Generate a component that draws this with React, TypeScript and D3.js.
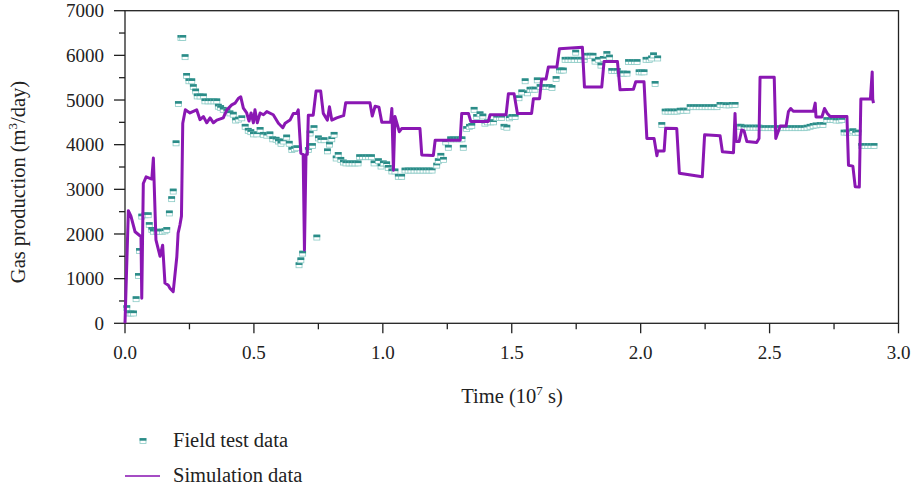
import React from "react";
import * as d3 from "d3";

// Simulation data (time in 1e7 s, gas production in m3/day)
const simTime = [0, 0.013, 0.023, 0.039, 0.058, 0.062, 0.065, 0.071, 0.082, 0.104, 0.110, 0.120, 0.136, 0.146, 0.155, 0.168, 0.175, 0.187, 0.201, 0.206, 0.213, 0.219, 0.224, 0.234, 0.252, 0.278, 0.291, 0.304, 0.317, 0.330, 0.343, 0.356, 0.381, 0.395, 0.414, 0.427, 0.440, 0.449, 0.459, 0.472, 0.481, 0.489, 0.498, 0.504, 0.513, 0.524, 0.537, 0.550, 0.575, 0.595, 0.612, 0.621, 0.640, 0.653, 0.666, 0.672, 0.682, 0.691, 0.696, 0.702, 0.707, 0.711, 0.730, 0.741, 0.759, 0.769, 0.785, 0.793, 0.802, 0.821, 0.841, 0.848, 0.856, 0.950, 0.959, 0.970, 0.985, 0.996, 1.030, 1.035, 1.041, 1.047, 1.064, 1.073, 1.144, 1.151, 1.196, 1.203, 1.300, 1.306, 1.332, 1.341, 1.409, 1.416, 1.478, 1.487, 1.509, 1.522, 1.577, 1.584, 1.608, 1.616, 1.633, 1.642, 1.675, 1.685, 1.774, 1.782, 1.849, 1.858, 1.910, 1.920, 1.972, 1.981, 2.013, 2.024, 2.052, 2.063, 2.066, 2.091, 2.097, 2.140, 2.150, 2.239, 2.248, 2.308, 2.317, 2.360, 2.366, 2.370, 2.382, 2.392, 2.401, 2.412, 2.450, 2.459, 2.463, 2.518, 2.524, 2.541, 2.564, 2.573, 2.582, 2.592, 2.670, 2.677, 2.680, 2.703, 2.713, 2.724, 2.735, 2.800, 2.806, 2.823, 2.832, 2.848, 2.854, 2.891, 2.898, 2.900, 2.903];
const simGas = [0, 2520, 2400, 2050, 1960, 1950, 560, 3130, 3280, 3230, 3700, 1870, 1500, 1750, 900, 850, 780, 710, 1490, 2020, 2200, 2400, 4480, 4780, 4710, 4780, 4560, 4630, 4490, 4600, 4490, 4550, 4600, 4780, 4890, 4930, 5040, 5070, 4820, 4710, 4530, 4710, 4490, 4780, 4490, 4710, 4670, 4740, 4670, 4480, 4380, 4480, 4550, 4700, 4700, 4780, 3810, 3780, 1640, 3780, 3780, 4660, 4660, 5200, 5200, 4700, 4550, 4850, 4550, 4600, 4640, 4650, 4940, 4940, 4640, 4860, 4840, 4500, 4500, 4810, 3430, 4630, 4290, 4360, 4360, 3770, 3760, 4100, 4100, 4700, 4700, 4520, 4520, 4670, 4670, 5140, 5140, 4700, 4700, 5030, 5030, 5470, 5470, 5740, 5740, 6150, 6180, 5290, 5290, 5860, 5860, 5230, 5240, 5410, 5410, 4140, 4140, 3750, 3860, 3860, 4370, 4360, 3360, 3280, 4220, 4200, 3840, 3820, 4700, 4070, 4070, 4330, 4310, 4070, 4050, 4140, 5510, 5510, 4140, 4420, 4420, 4740, 4810, 4750, 4750, 4930, 4620, 4620, 4810, 4700, 4630, 4630, 3540, 3520, 3060, 3050, 5020, 5020, 5630, 5020, 4930];

// Field test data
const fieldTime = [0.007, 0.013, 0.023, 0.033, 0.043, 0.052, 0.056, 0.065, 0.078, 0.090, 0.094, 0.104, 0.110, 0.123, 0.134, 0.145, 0.155, 0.162, 0.172, 0.181, 0.187, 0.198, 0.207, 0.217, 0.224, 0.233, 0.239, 0.248, 0.259, 0.265, 0.274, 0.280, 0.291, 0.304, 0.310, 0.322, 0.334, 0.345, 0.356, 0.362, 0.371, 0.381, 0.395, 0.407, 0.420, 0.429, 0.440, 0.453, 0.466, 0.478, 0.488, 0.498, 0.511, 0.524, 0.537, 0.550, 0.562, 0.573, 0.586, 0.595, 0.605, 0.614, 0.627, 0.637, 0.647, 0.657, 0.666, 0.675, 0.682, 0.689, 0.711, 0.718, 0.727, 0.733, 0.744, 0.750, 0.760, 0.772, 0.785, 0.793, 0.802, 0.811, 0.819, 0.827, 0.837, 0.847, 0.857, 0.869, 0.881, 0.892, 0.904, 0.910, 0.921, 0.933, 0.945, 0.956, 0.966, 0.983, 0.993, 1.002, 1.015, 1.021, 1.035, 1.047, 1.060, 1.073, 1.086, 1.098, 1.109, 1.121, 1.133, 1.144, 1.156, 1.168, 1.179, 1.191, 1.209, 1.215, 1.225, 1.235, 1.244, 1.254, 1.263, 1.274, 1.286, 1.298, 1.307, 1.312, 1.325, 1.336, 1.345, 1.354, 1.364, 1.377, 1.388, 1.396, 1.406, 1.418, 1.429, 1.442, 1.452, 1.461, 1.470, 1.481, 1.491, 1.501, 1.513, 1.528, 1.539, 1.552, 1.561, 1.571, 1.581, 1.590, 1.599, 1.610, 1.621, 1.633, 1.645, 1.656, 1.672, 1.685, 1.692, 1.700, 1.707, 1.718, 1.730, 1.742, 1.748, 1.755, 1.767, 1.781, 1.792, 1.804, 1.815, 1.823, 1.836, 1.846, 1.855, 1.869, 1.879, 1.888, 1.898, 1.909, 1.920, 1.933, 1.947, 1.953, 1.965, 1.976, 1.986, 1.994, 2.004, 2.013, 2.021, 2.033, 2.042, 2.050, 2.056, 2.066, 2.082, 2.095, 2.106, 2.118, 2.130, 2.141, 2.153, 2.165, 2.179, 2.192, 2.203, 2.215, 2.227, 2.238, 2.250, 2.261, 2.273, 2.285, 2.296, 2.308, 2.320, 2.331, 2.343, 2.355, 2.366, 2.378, 2.389, 2.401, 2.413, 2.424, 2.436, 2.447, 2.459, 2.471, 2.482, 2.494, 2.506, 2.517, 2.529, 2.541, 2.552, 2.564, 2.575, 2.587, 2.599, 2.610, 2.622, 2.634, 2.645, 2.657, 2.669, 2.680, 2.696, 2.707, 2.722, 2.735, 2.746, 2.758, 2.770, 2.780, 2.789, 2.800, 2.812, 2.823, 2.834, 2.843, 2.857, 2.870, 2.881, 2.893, 2.905];
const fieldGas = [340, 220, 220, 220, 540, 1060, 1620, 2390, 2420, 2420, 2200, 2090, 2050, 2050, 2050, 2050, 2060, 2090, 2460, 2780, 2950, 4030, 4910, 6390, 6390, 5960, 5540, 5420, 5420, 5290, 5190, 5080, 5080, 5080, 4970, 4970, 4970, 4970, 4970, 4850, 4820, 4780, 4750, 4700, 4670, 4540, 4560, 4590, 4400, 4310, 4280, 4230, 4230, 4330, 4220, 4200, 4230, 4120, 4110, 4070, 4020, 4070, 4160, 4020, 3880, 3900, 3920, 1300, 1410, 1560, 3880, 4250, 3970, 4370, 1920, 4140, 4100, 4100, 3850, 4000, 4120, 4220, 3690, 3770, 3660, 3600, 3580, 3580, 3580, 3580, 3580, 3720, 3720, 3720, 3720, 3720, 3580, 3630, 3510, 3580, 3560, 3480, 3400, 3400, 3280, 3280, 3420, 3420, 3420, 3420, 3420, 3420, 3420, 3420, 3420, 3420, 3530, 3630, 3750, 3660, 4050, 3930, 4120, 4120, 4120, 4120, 4120, 3930, 4350, 4400, 4420, 4780, 4620, 4680, 4630, 4470, 4500, 4500, 4500, 4600, 4600, 4600, 4400, 4380, 4590, 4620, 4620, 5040, 5170, 5420, 5150, 5230, 5230, 5230, 5440, 5290, 5290, 5290, 5290, 5270, 5470, 5660, 5660, 5660, 5900, 5900, 5900, 5900, 6060, 5900, 5900, 5900, 5990, 5990, 5990, 5860, 5900, 5770, 5920, 6030, 5950, 5650, 5650, 5650, 5590, 5590, 5590, 5850, 5850, 5850, 5850, 5620, 5620, 5620, 5900, 5900, 5930, 6000, 5360, 5930, 4440, 4740, 4740, 4740, 4740, 4740, 4760, 4760, 4760, 4840, 4840, 4840, 4840, 4840, 4840, 4840, 4840, 4840, 4840, 4890, 4890, 4880, 4880, 4890, 4890, 4400, 4400, 4380, 4380, 4380, 4380, 4380, 4380, 4370, 4370, 4370, 4370, 4370, 4360, 4370, 4370, 4370, 4370, 4370, 4370, 4370, 4370, 4370, 4380, 4400, 4420, 4430, 4440, 4440, 4550, 4550, 4550, 4540, 4540, 4550, 4270, 4270, 4270, 4300, 4260, 4270, 3970, 3970, 3970, 3970, 3970];

const xTicks = [0, 0.5, 1.0, 1.5, 2.0, 2.5, 3.0];
const xMinorTicks = [0.25, 0.75, 1.25, 1.75, 2.25, 2.75];
const yTicks = [0, 1000, 2000, 3000, 4000, 5000, 6000, 7000];
const yMinorTicks = [500, 1500, 2500, 3500, 4500, 5500, 6500];

const legendLabels = ["Field test data", "Simulation data"];

const FONT = "'Liberation Serif', 'Times New Roman', serif";
const LINE_COLOR = "#8a17b3";
const TEAL_DARK = "#2b8c88";
const TEAL_LIGHT = "#8ccbc6";

const Marker = ({ cx, cy }: { cx: number; cy: number }) => (
  <g>
    <rect x={cx - 3} y={cy - 2.5} width={6} height={5} fill="#ffffff" stroke={TEAL_LIGHT} strokeWidth={0.8} />
    <rect x={cx - 3.4} y={cy - 2.9} width={6.8} height={2.6} fill={TEAL_DARK} />
  </g>
);

export default function App() {
  const W = 915;
  const H = 489;
  const x0 = 125;
  const x1 = 898.5;
  const yb = 323.3;
  const yt = 10.7;
  const x = d3.scaleLinear().domain([0, 3]).range([x0, x1]);
  const y = d3.scaleLinear().domain([0, 7000]).range([yb, yt]);

  const simData = simTime.map((t, i) => [t, simGas[i]] as [number, number]);
  const line = d3
    .line<[number, number]>()
    .x((d) => x(d[0]))
    .y((d) => y(d[1]));

  return (
    <svg
      width={W}
      height={H}
      style={{ position: "absolute", left: 0, top: 0, background: "#fff" }}
      fontFamily={FONT}
    >
      {/* frame */}
      <rect x={x0} y={yt} width={x1 - x0} height={yb - yt} fill="none" stroke="#222" strokeWidth={1.3} />

      {/* x ticks */}
      {xTicks.map((t) => (
        <g key={"xt" + t}>
          <line x1={x(t)} x2={x(t)} y1={yb} y2={yb + 10} stroke="#222" strokeWidth={1.3} />
          <text x={x(t)} y={yb + 36} textAnchor="middle" fontSize={19} fill="#222">
            {t.toFixed(1)}
          </text>
        </g>
      ))}
      {xMinorTicks.map((t) => (
        <line key={"xm" + t} x1={x(t)} x2={x(t)} y1={yb} y2={yb + 6} stroke="#222" strokeWidth={1.3} />
      ))}

      {/* y ticks */}
      {yTicks.map((v) => (
        <g key={"yt" + v}>
          <line x1={x0 - 11} x2={x0} y1={y(v)} y2={y(v)} stroke="#222" strokeWidth={1.3} />
          <text x={x0 - 21} y={y(v)} dy="0.35em" textAnchor="end" fontSize={19} fill="#222">
            {v}
          </text>
        </g>
      ))}
      {yMinorTicks.map((v) => (
        <line key={"ym" + v} x1={x0 - 6} x2={x0} y1={y(v)} y2={y(v)} stroke="#222" strokeWidth={1.3} />
      ))}

      {/* axis titles */}
      <text x={512} y={403} textAnchor="middle" fontSize={20.5} fill="#222">
        Time (10<tspan dy={-8} fontSize={13}>7</tspan>
        <tspan dy={8}> s)</tspan>
      </text>
      <text
        transform={`translate(25, ${(yb + yt) / 2 + 15}) rotate(-90)`}
        textAnchor="middle"
        fontSize={20.5}
        fill="#222"
      >
        Gas production (m<tspan dy={-8} fontSize={13}>3</tspan>
        <tspan dy={8}>/day)</tspan>
      </text>

      {/* field markers */}
      {fieldTime.map((t, i) => (
        <Marker key={"f" + i} cx={x(t)} cy={y(fieldGas[i])} />
      ))}

      {/* simulation line */}
      <path d={line(simData) || ""} fill="none" stroke={LINE_COLOR} strokeWidth={3} strokeLinejoin="round" />

      {/* legend */}
      <Marker cx={143} cy={441} />
      <text x={173} y={447} fontSize={20.5} fill="#222">{legendLabels[0]}</text>
      <line x1={125} x2={160} y1={476} y2={476} stroke="#a54cc4" strokeWidth={2} />
      <text x={173} y={482} fontSize={20.5} fill="#222">{legendLabels[1]}</text>
    </svg>
  );
}
